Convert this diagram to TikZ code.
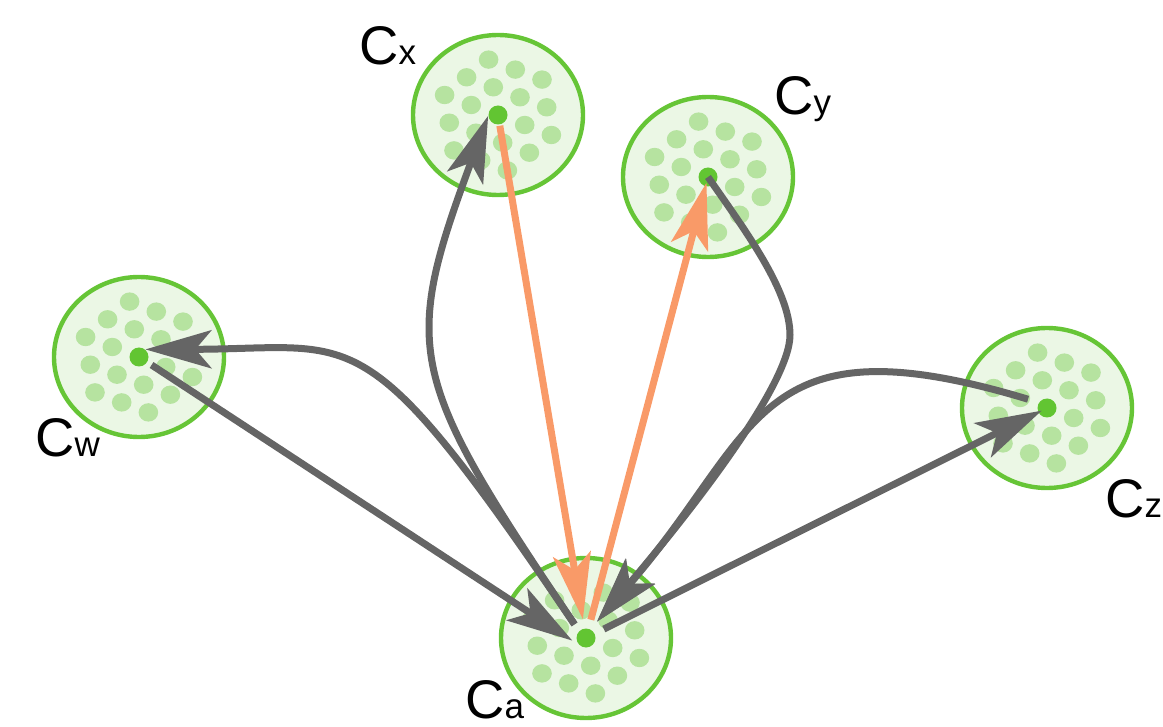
\documentclass[tikz,border=0pt]{standalone}
\usepackage{fontspec}
\setmainfont{Liberation Sans}
\usetikzlibrary{arrows.meta}
\definecolor{ring}{HTML}{66C536}
\definecolor{pool}{HTML}{EBF7E5}
\definecolor{spotc}{HTML}{B6E3A0}
\definecolor{corec}{HTML}{62C532}
\definecolor{linkc}{HTML}{656565}
\definecolor{flowc}{HTML}{F99A68}
\newcommand{\cname}[1]{C{\fontsize{17.5}{20}\selectfont #1}}

\begin{document}
\begin{tikzpicture}[x=0.5pt,y=-0.5pt]
\tikzset{cluster/.style = {draw=ring,fill=pool,line width=2.2pt}}
\tikzset{spot/.style = {fill=spotc}}
\tikzset{core/.style = {shape=circle,fill=corec,minimum size=9.5pt,inner sep=0pt}}
\tikzset{tag/.style = {anchor=base west,inner sep=0pt,font=\fontsize{27.2}{30}\selectfont}}
\tikzset{link/.style = {draw=linkc,line width=3.5pt,-{Stealth[length=33pt,width=19pt,inset=8pt]}}}
\tikzset{flow/.style = {link,draw=flowc}}
\useasboundingbox (0,0) rectangle (1163,727);
\foreach \nm/\xx/\yy in {a/586/638, w/139/357, x/498/115, y/708/177, z/1047/408} {
  \draw[cluster] (\xx,\yy) ellipse [x radius=42.5pt, y radius=40pt];
  \foreach \i/\j in {-2/-2,-1/-2,0/-2,-2/-1,-1/-1,0/-1,1/-1,-2/0,-1/0,1/0,2/0,-1/1,0/1,1/1,2/1,0/2,1/2,2/2}
    \fill[spot] ({\xx+\i*26.7-\j*22},{\yy+\i*10+\j*17.7}) ellipse [x radius=4.9pt, y radius=4.6pt];
  \node[core] (c\nm) at (\xx,\yy) {};
}
\node[tag] (la) at (465,718) {\cname{a}};
\node[tag] (lw) at (35,457) {\cname{w}};
\node[tag] (lx) at (359,65) {\cname{x}};
\node[tag] (ly) at (774,115) {\cname{y}};
\node[tag] (lz) at (1105,517) {\cname{z}};
% orange pair
\draw[flow,shorten <=0.5pt,shorten >=4.5pt] (cx) -- (ca);
\draw[flow,shorten <=4.5pt,shorten >=-2pt] (ca) -- (cy);
% gray ones
\draw[link,shorten <=2.5pt,shorten >=4pt] (cw.-32) -- (ca.225);
\draw[link,shorten <=4pt] (ca.135) .. controls (362,310) and (360,349) .. (cw.50);
\draw[link,shorten <=4pt] (ca.135) .. controls (407,376) and (401,351) .. (cx.185);
\draw[link,shorten >=5pt] (cy.center) .. controls (744,229) and (790,290) .. (790,335)
  .. controls (790,385) and (688,515) .. (ca.63);
\draw[link,shorten <=5.6pt,shorten >=5pt] (cz.146) .. controls (752,316) and (761,433) .. (ca.63);
\draw[link,shorten <=5pt,shorten >=-2pt] (ca) -- (cz);
\end{tikzpicture}
\end{document}
